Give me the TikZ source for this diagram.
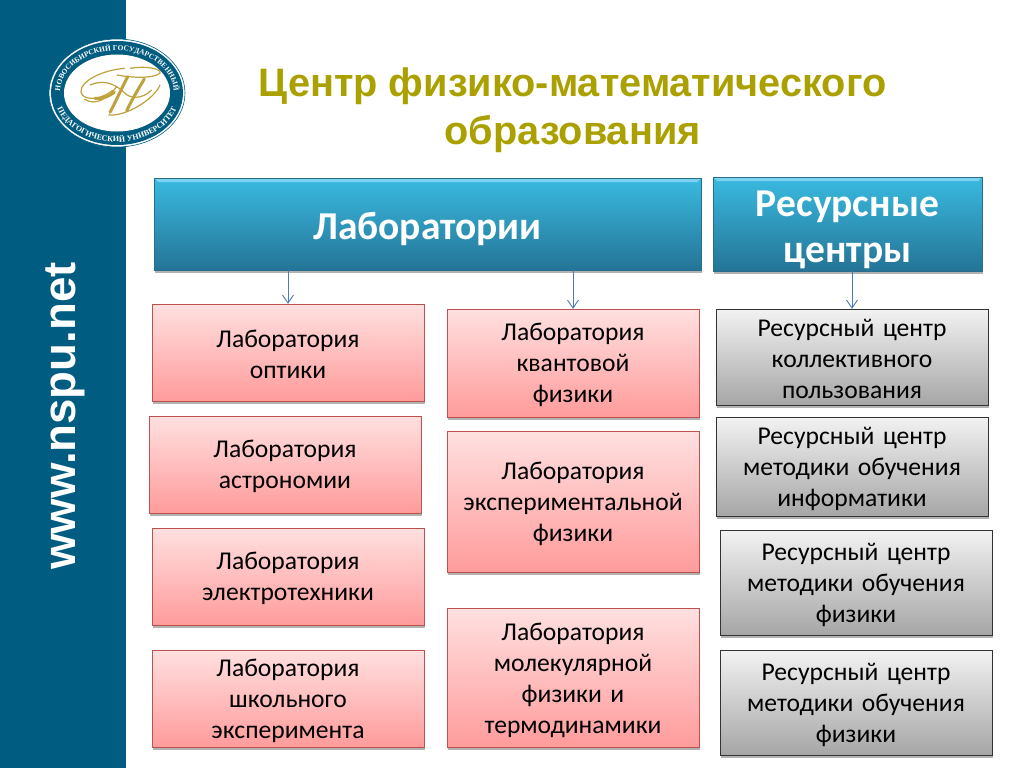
\documentclass[tikz,border=0pt]{standalone}
\usepackage{fontspec}
\setmainfont{Carlito}
\newfontfamily\headfont{Liberation Sans}
\newfontfamily\sealfont{Liberation Serif}
\usetikzlibrary{shadows}
\usetikzlibrary{arrows.meta}
\usetikzlibrary{decorations.text}
\definecolor{sidecol}{RGB}{0,92,128}
\definecolor{titlecol}{RGB}{170,160,0}
\definecolor{goldcol}{RGB}{190,162,60}
\definecolor{arrowcol}{RGB}{80,120,185}
\tikzset{
	basebox/.style={draw,align=center,inner sep=0pt,text width=#1,
		drop shadow={shadow xshift=1pt,shadow yshift=-2.5pt,opacity=.3,fill=black}},
	bluebox/.style={basebox=260pt,draw={rgb,255:red,40;green,110;blue,140},
		top color={rgb,255:red,58;green,186;blue,224},bottom color={rgb,255:red,36;green,116;blue,150},
		text=white,font=\fontsize{39.5}{46}\selectfont\bfseries,
		execute at begin node={\rule{0pt}{37pt}},
		path picture={
			\fill[cyan!40!white,opacity=.7] (path picture bounding box.north west) -- (path picture bounding box.north east)
				-- ([shift={(-4pt,-4pt)}]path picture bounding box.north east) -- ([shift={(4pt,-4pt)}]path picture bounding box.north west) -- cycle;
		}},
	labbox/.style={basebox=262pt,draw={rgb,255:red,190;green,80;blue,80},
		top color={rgb,255:red,255;green,224;blue,224},bottom color={rgb,255:red,255;green,155;blue,155},
		minimum width=272pt,font=\fontsize{25.6}{31}\selectfont,
		execute at begin node={\rule{0pt}{21.5pt}}},
	resbox/.style={basebox=262pt,draw=black!80,
		top color=black!5,bottom color=black!35,
		minimum width=272pt,font=\fontsize{25.6}{31}\selectfont,
		execute at begin node={\rule{0pt}{21.5pt}}},
	arr/.style={-{Straight Barb[length=8pt,width=11pt]},arrowcol,line width=.9pt},
	seal/.style={goldcol,line width=1.2pt},
	sealbold/.style={goldcol,line width=3pt,line cap=round},
}
\begin{document}
\begin{tikzpicture}[x=1pt,y=-1pt]
	\useasboundingbox (0,0) rectangle (1024,768);
	\fill[sidecol] (0,0) rectangle (126,768);
	\node[white,rotate=90,font=\fontsize{45.6}{50}\selectfont\headfont\bfseries] (site) at (65,416) {www.nspu.net};
	% seal
	\filldraw[draw=sidecol,fill=white,line width=.6pt] (117,93) circle[x radius=68pt,y radius=54pt];
	\fill[sidecol] (117,93) circle[x radius=66pt,y radius=52pt];
	\fill[white] (117,93) circle[x radius=53pt,y radius=38.5pt];
	\path[decorate,decoration={text along path,text align=center,
		text={|\fontsize{7.4}{8}\sealfont\bfseries\color{white}|НОВОСИБИРСКИЙ ГОСУДАРСТВЕННЫЙ}}]
		(117,93) ++(186:57pt and 42.5pt) arc[start angle=186,end angle=-6,x radius=57pt,y radius=42.5pt];
	\path[decorate,decoration={text along path,text align=center,
		text={|\fontsize{8}{9}\sealfont\bfseries\color{white}|ПЕДАГОГИЧЕСКИЙ УНИВЕРСИТЕТ}}]
		(117,93) ++(186:63pt and 49pt) arc[start angle=186,end angle=354,x radius=63pt,y radius=49pt];
	\begin{scope}[shift={(45,35)},x=.3333pt,y=-.3333pt]
		\draw[seal] (240,100) .. controls (170,105) and (105,140) .. (108,170) .. controls (110,195) and (160,200) .. (205,165);
		\draw[seal] (118,192) .. controls (150,215) and (190,190) .. (215,155);
		\draw[seal] (215,120) .. controls (260,128) and (320,132) .. (345,115) .. controls (350,100) and (300,92) .. (255,100);
		\draw[seal] (190,240) .. controls (245,245) and (330,190) .. (345,150);
		\draw[seal] (135,150) .. controls (170,135) and (205,140) .. (240,175) .. controls (255,190) and (290,195) .. (320,165);
		\draw[sealbold] (195,232) .. controls (205,215) and (225,170) .. (248,125);
		\draw[sealbold] (245,228) .. controls (255,205) and (275,170) .. (298,132);
		\draw[sealbold] (150,190) .. controls (170,192) and (190,186) .. (208,172);
	\end{scope}
	% title
	\node[titlecol,align=center,font=\fontsize{39.7}{48}\selectfont\headfont\bfseries] (title) at (572.5,110)
		{Центр физико-математического\\образования};
	% heads
	\node[bluebox,minimum width=547pt,minimum height=92pt,text width=520pt] (labs) at (427.5,224) {Лаборатории};
	\node[bluebox,minimum width=269pt,minimum height=94pt] (rescen) at (847.5,224) {Ресурсные\\центры};
	% left column
	\node[labbox,minimum height=97pt] (optics) at (288,352.5) {Лаборатория\\оптики};
	\node[labbox,minimum height=97pt] (astro) at (285,464.5) {Лаборатория\\астрономии};
	\node[labbox,minimum height=97pt] (electro) at (288,576.5) {Лаборатория\\электротехники};
	\node[labbox,minimum height=97pt] (school) at (288,698.5) {Лаборатория\\школьного\\эксперимента};
	% middle column
	\node[labbox,minimum width=252pt,text width=250pt,minimum height=108pt] (quantum) at (573,363) {Лаборатория\\квантовой\\физики};
	\node[labbox,minimum width=252pt,text width=250pt,minimum height=141pt] (exper) at (573,501.5) {Лаборатория\\экспериментальной\\физики};
	\node[labbox,minimum width=252pt,text width=250pt,minimum height=139pt] (molec) at (573,678) {Лаборатория\\молекулярной\\физики и\\термодинамики};
	% right column
	\node[resbox,minimum height=96pt] (collect) at (852,357) {Ресурсный центр\\коллективного\\пользования};
	\node[resbox,minimum height=99pt] (inform) at (852,466.5) {Ресурсный центр\\методики обучения\\информатики};
	\node[resbox,minimum height=105pt] (phys) at (856,582.5) {Ресурсный центр\\методики обучения\\физики};
	\node[resbox,minimum height=105pt] (phystwo) at (856,702.5) {Ресурсный центр\\методики обучения\\физики};
	% arrows
	\draw[arr] (labs.south -| optics.north) -- (optics.north);
	\draw[arr] (labs.south -| quantum.north) -- (quantum.north);
	\draw[arr] (rescen.south -| collect.north) -- (collect.north);
\end{tikzpicture}
\end{document}
